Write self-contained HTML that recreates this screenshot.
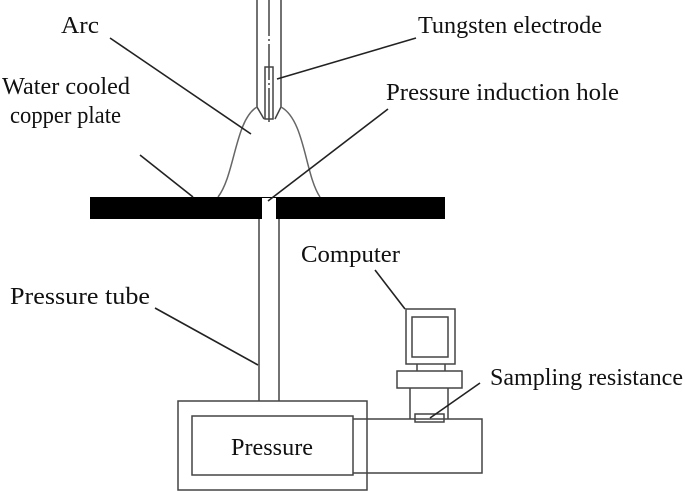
<!DOCTYPE html>
<html><head><style>
body{margin:0;background:#fff;}
svg{display:block;}
text{font-family:"Liberation Serif",serif;font-size:24px;fill:#111;}
</style></head><body>
<svg width="685" height="492" viewBox="0 0 685 492" xmlns="http://www.w3.org/2000/svg">
<g fill="none" stroke="#444" stroke-width="1.5">
<path d="M257,0 V107 L264,119 M281,0 V107 L275,119"/>
<line x1="269" y1="0" x2="269" y2="122" stroke-dasharray="36,3,2,3"/>
<rect x="265" y="67" width="8" height="52"/>
<path d="M218,197 C235,175 235,120 257,107 M281,107 C305,120 305,175 320,197" stroke="#666"/>
<path d="M259,219 V401 M279,219 V401"/>
<rect x="178" y="401" width="189" height="89"/>
<rect x="192" y="416" width="161" height="59"/>
<path d="M353,419 H482 V473 H353"/>
<rect x="406" y="309" width="49" height="55"/>
<rect x="412" y="317" width="36" height="40"/>
<path d="M417,364 V371 M445,364 V371"/>
<rect x="397" y="371" width="65" height="17"/>
<path d="M410,388 V419 M448,388 V419"/>
<rect x="415" y="414" width="29" height="8"/>
</g>
<rect x="90" y="197" width="355" height="22" fill="#000"/>
<rect x="262" y="198" width="14" height="21" fill="#fff"/>
<g stroke="#222" stroke-width="1.6">
<line x1="110" y1="38" x2="251" y2="134"/>
<line x1="416" y1="38" x2="277" y2="79"/>
<line x1="388" y1="109" x2="268" y2="201"/>
<line x1="140" y1="155" x2="193" y2="197"/>
<line x1="155" y1="308" x2="258" y2="365"/>
<line x1="375" y1="270" x2="405" y2="309"/>
<line x1="480" y1="383" x2="430" y2="418"/>
</g>
<text x="61" y="33" textLength="38" lengthAdjust="spacingAndGlyphs">Arc</text>
<text x="418" y="33" textLength="184" lengthAdjust="spacingAndGlyphs">Tungsten electrode</text>
<text x="2" y="94" textLength="128" lengthAdjust="spacingAndGlyphs">Water cooled</text>
<text x="10" y="123" textLength="111" lengthAdjust="spacingAndGlyphs">copper plate</text>
<text x="386" y="100" textLength="233" lengthAdjust="spacingAndGlyphs">Pressure induction hole</text>
<text x="10" y="304" textLength="140" lengthAdjust="spacingAndGlyphs">Pressure tube</text>
<text x="301" y="262" textLength="99" lengthAdjust="spacingAndGlyphs">Computer</text>
<text x="490" y="385" textLength="193" lengthAdjust="spacingAndGlyphs">Sampling resistance</text>
<text x="231" y="455" textLength="82" lengthAdjust="spacingAndGlyphs">Pressure</text>
</svg>
</body></html>
